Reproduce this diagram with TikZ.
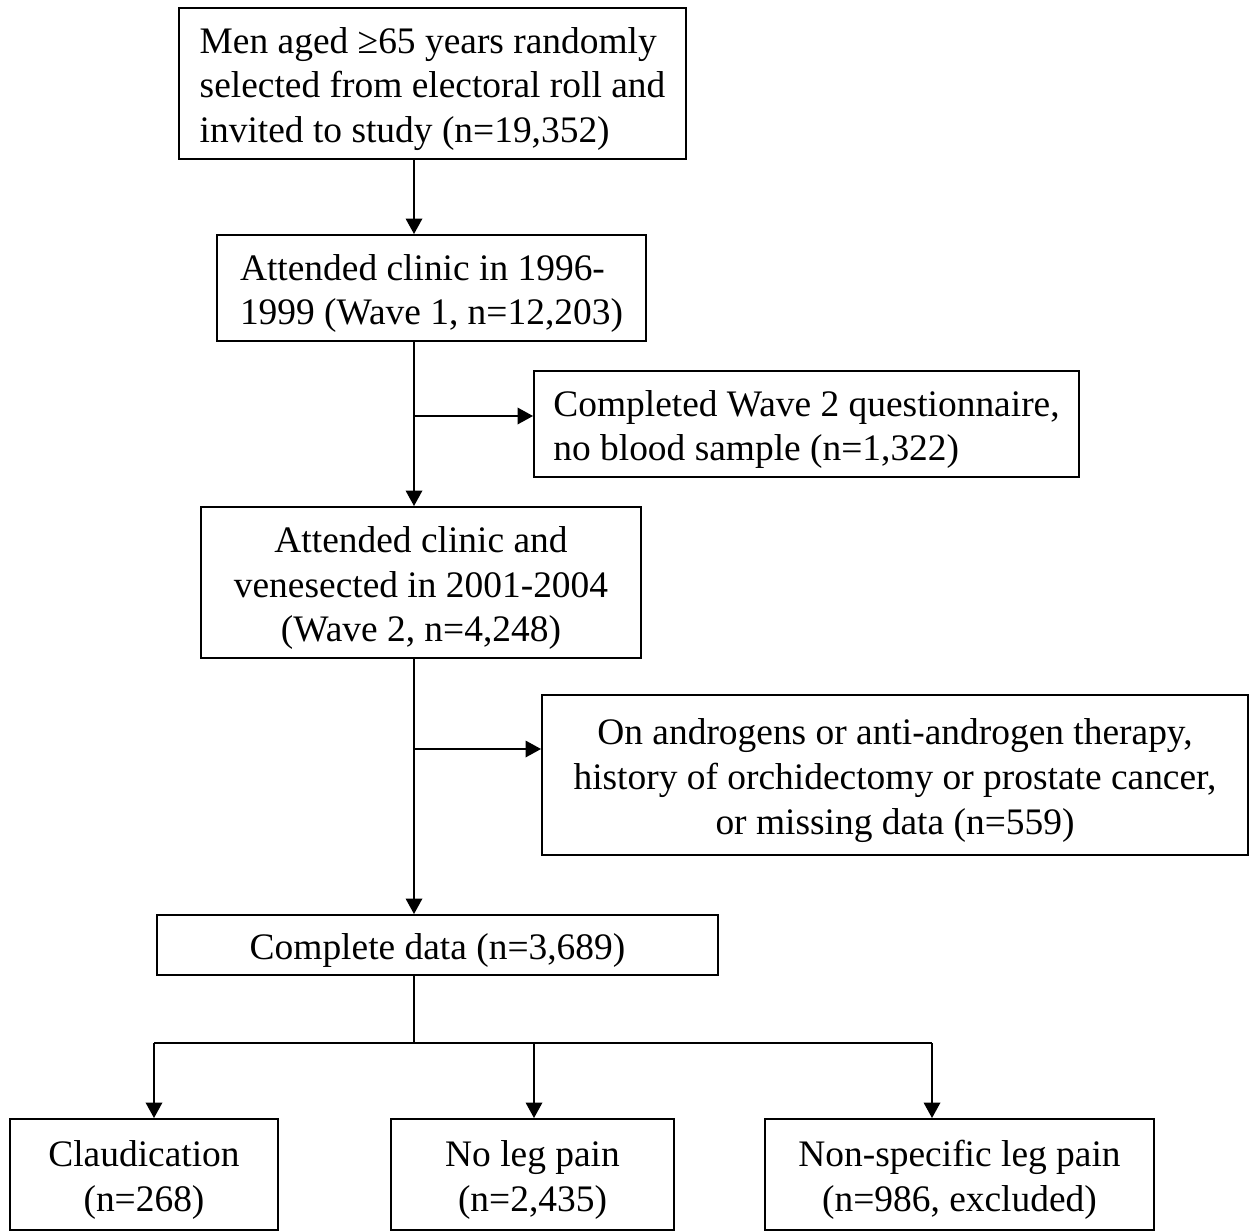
\documentclass[tikz,border=0pt]{standalone}
\usepackage{fontspec}
\setmainfont{Liberation Serif}
\usetikzlibrary{arrows.meta}
\newcommand{\topgap}{\rule{0pt}{0.74cm}}

\begin{document}
\begin{tikzpicture}[>={Triangle[length=0.31cm,width=0.33cm]},
box/.style={draw,line width=1.1pt,inner sep=0pt,font=\fontsize{21.3}{25.5}\selectfont},
line/.style={line width=1.1pt}]
\useasboundingbox (0,0) rectangle (24.98,-24.6);
\node[box,align=left,minimum width=10.14cm,minimum height=3.02cm](invited) at (8.65,-1.67)
{\topgap Men aged ≥65 years randomly\\selected from electoral roll and\\invited to study (n=19,352)};
\node[box,align=left,minimum width=8.58cm,minimum height=2.12cm](wave1) at (8.63,-5.76)
{\topgap Attended clinic in 1996-\\1999 (Wave 1, n=12,203)};
\node[box,align=left,minimum width=10.9cm,minimum height=2.12cm](nosample) at (16.13,-8.48)
{\topgap Completed Wave 2 questionnaire,\\no blood sample (n=1,322)};
\node[box,align=center,minimum width=8.8cm,minimum height=3.02cm](wave2) at (8.42,-11.65)
{\topgap Attended clinic and\\venesected in 2001-2004\\(Wave 2, n=4,248)};
\node[box,align=center,minimum width=14.12cm,minimum height=3.2cm](excluded) at (17.9,-15.5)
{\topgap On androgens or anti-androgen therapy,\\history of orchidectomy or prostate cancer,\\or missing data (n=559)};
\node[box,minimum width=11.22cm,minimum height=1.2cm](complete) at (8.75,-18.9)
{\topgap Complete data (n=3,689)};
\node[box,align=center,minimum width=5.36cm,minimum height=2.22cm](claud) at (2.88,-23.49)
{\topgap Claudication\\(n=268)};
\node[box,align=center,minimum width=5.66cm,minimum height=2.22cm](nopain) at (10.65,-23.49)
{\topgap No leg pain\\(n=2,435)};
\node[box,align=center,minimum width=7.78cm,minimum height=2.22cm](nonspec) at (19.19,-23.49)
{\topgap Non-specific leg pain\\(n=986, excluded)};

\coordinate (spine) at (8.28,0);
\coordinate (j1) at (8.28,-8.32);
\coordinate (j2) at (8.28,-14.98);
\coordinate (bl) at (3.08,-20.86);
\coordinate (bm) at (10.68,-20.86);
\coordinate (br) at (18.64,-20.86);

\draw[->,line](invited.south -| spine)--(wave1.north -| spine);
\draw[->,line](wave1.south -| spine)--(wave2.north -| spine);
\draw[->,line](j1)--(j1 -| nosample.west);
\draw[->,line](wave2.south -| spine)--(complete.north -| spine);
\draw[->,line](j2)--(j2 -| excluded.west);
\draw[line](complete.south -| spine)--(spine |- bm);
\draw[line](bl)--(br);
\draw[->,line](bl)--(bl |- claud.north);
\draw[->,line](bm)--(bm |- nopain.north);
\draw[->,line](br)--(br |- nonspec.north);
\end{tikzpicture}
\end{document}
